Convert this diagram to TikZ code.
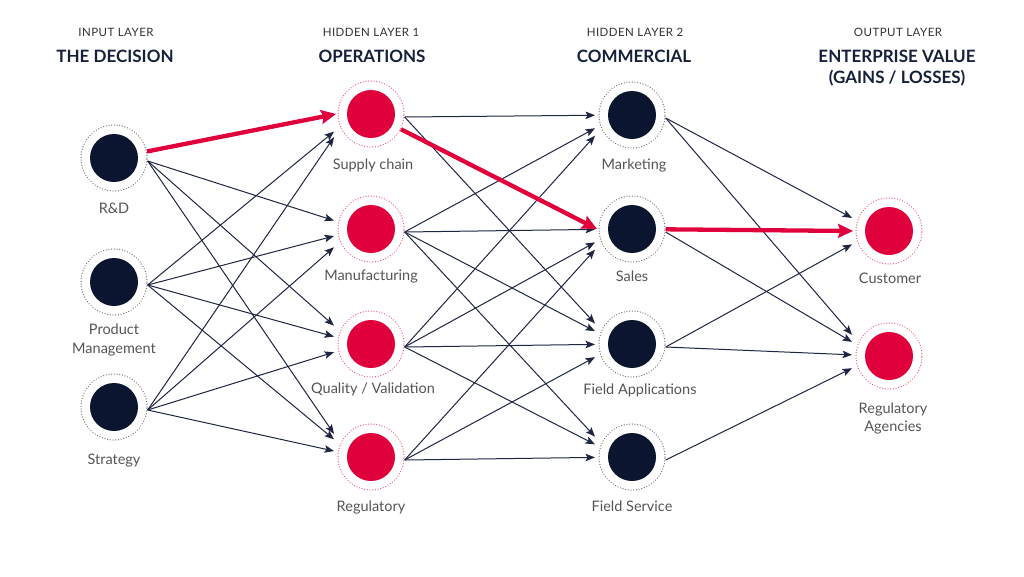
\documentclass[tikz,border=0pt]{standalone}
\usepackage{fontspec}
\setmainfont{Lato}
\usetikzlibrary{arrows.meta,calc}
\definecolor{navy}{HTML}{0B1530}
\definecolor{crim}{HTML}{E0003C}
\definecolor{edgec}{HTML}{1E2642}
\definecolor{lblc}{HTML}{555555}
\definecolor{hdrc}{HTML}{333333}
\definecolor{hdrb}{HTML}{15203A}
\definecolor{ringgray}{HTML}{707070}
\definecolor{ringpink}{HTML}{F2567A}
\begin{document}
\begin{tikzpicture}[x=1pt,y=-1pt,
  neuron/.style={circle,minimum size=66pt,inner sep=0pt,line width=1.3pt,dash pattern=on 0.01pt off 2.7pt,line cap=round},
  darkn/.style={neuron,draw=ringgray,path picture={\fill[navy] (path picture bounding box.center) circle (24pt);}},
  redn/.style={neuron,draw=ringpink,path picture={\fill[crim] (path picture bounding box.center) circle (24pt);}},
  conn/.style={draw=edgec,line width=1pt,-{Stealth[length=9.5pt,width=7.5pt,inset=2pt]}},
  hot/.style={draw=crim,line width=4.3pt,-{Stealth[length=15pt,width=14pt,inset=2.5pt]}},
  lbl/.style={anchor=base,inner sep=0pt,text=lblc,font=\fontsize{14.5}{18}\selectfont},
  hsmall/.style={anchor=base,inner sep=0pt,text=hdrc,font=\fontsize{11.5}{14}\selectfont\addfontfeature{LetterSpace=4}},
  hbig/.style={anchor=base,inner sep=0pt,text=hdrb,font=\fontsize{17}{21}\selectfont\bfseries}
]
\useasboundingbox[fill=white] (0,0) rectangle (1024,576);

% headers
\node[hsmall] (h1s) at (116,36) {INPUT LAYER};
\node[hbig] (h1b) at (115,62) {THE DECISION};
\node[hsmall] (h2s) at (371,36) {HIDDEN LAYER 1};
\node[hbig] (h2b) at (372,62) {OPERATIONS};
\node[hsmall] (h3s) at (635,36) {HIDDEN LAYER 2};
\node[hbig] (h3b) at (634,62) {COMMERCIAL};
\node[hsmall] (h4s) at (898,36) {OUTPUT LAYER};
\node[hbig] (h4b) at (897,62) {ENTERPRISE VALUE};
\node[hbig] (h4c) at (897,83) {(GAINS / LOSSES)};

% neurons
\node[darkn] (rd) at (114,158) {};
\node[darkn] (pm) at (114,282) {};
\node[darkn] (st) at (114,407) {};
\node[redn] (sc) at (371,114) {};
\node[redn] (mf) at (371,229) {};
\node[redn] (qv) at (371,344) {};
\node[redn] (rg) at (371,457) {};
\node[darkn] (mk) at (632,115) {};
\node[darkn] (sa) at (632,229) {};
\node[darkn] (fa) at (632,344) {};
\node[darkn] (fs) at (632,457) {};
\node[redn] (cu) at (889,231) {};
\node[redn] (ra) at (889,356) {};

% labels
\node[lbl] (rdl) at (114,213) {R\&D};
\node[lbl] (pml1) at (114,334) {Product};
\node[lbl] (pml2) at (114,353) {Management};
\node[lbl] (stl) at (114,464) {Strategy};
\node[lbl] (scl) at (373,169) {Supply chain};
\node[lbl] (mfl) at (371,280) {Manufacturing};
\node[lbl] (qvl) at (373,393) {Quality / Validation};
\node[lbl] (rgl) at (371,511) {Regulatory};
\node[lbl] (mkl) at (634,169) {Marketing};
\node[lbl] (sal) at (632,281) {Sales};
\node[lbl] (fal) at (640,394) {Field Applications};
\node[lbl] (fsl) at (632,511) {Field Service};
\node[lbl] (cul) at (890,283) {Customer};
\node[lbl] (ral1) at (893,413) {Regulatory};
\node[lbl] (ral2) at (893,431) {Agencies};

% thin connectors: each ends just left of its target ring
\foreach \a/\b in {rd/mf,rd/qv,rd/rg,pm/sc,pm/mf,pm/qv,pm/rg,st/sc,st/mf,st/qv,st/rg,
  sc/mk,sc/fa,mf/mk,mf/sa,mf/fa,mf/fs,qv/mk,qv/sa,qv/fa,qv/fs,rg/sa,rg/fa,rg/fs,
  mk/cu,mk/ra,sa/ra,fa/cu,fa/ra,fs/ra}
  \draw[conn] let \p1=([yshift=-3pt]\a.east), \p2=(\b.center),
      \n1={atan2(\y2-\y1,\x2-\x1)}, \n2={-29*sin(\n1)} in
      (\p1) -- ([xshift=-37pt,yshift=\n2]\p2);

% highlighted path
\draw[hot] (rd) -- ([xshift=-35pt]sc.center);
\draw[hot] (sc) -- ([xshift=-35pt]sa.center);
\draw[hot] (sa) -- ([xshift=-36pt]cu.center);
\end{tikzpicture}
\end{document}
